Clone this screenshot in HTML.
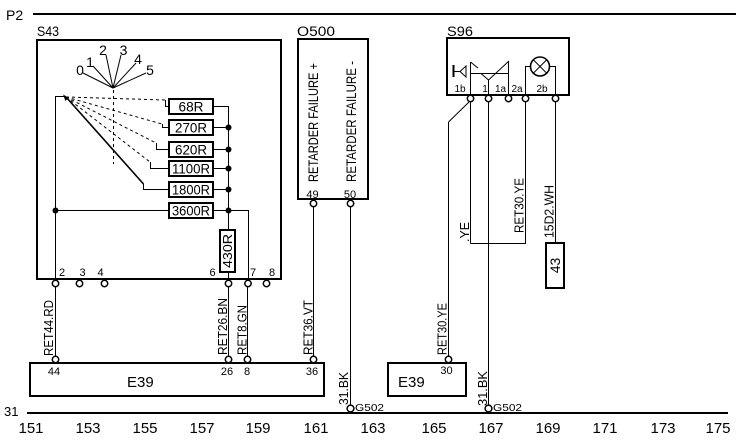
<!DOCTYPE html>
<html><head><meta charset="utf-8"><style>
html,body{margin:0;padding:0;background:#fff;}
svg{display:block;}
text{font-family:"Liberation Sans",Arial,sans-serif;fill:#000;}
</style></head><body>
<svg width="736" height="440" viewBox="0 0 736 440" xmlns="http://www.w3.org/2000/svg">
<g fill="none" stroke="#000">
<!-- rails -->
<line x1="33" y1="14" x2="736" y2="14" stroke-width="2"/>
<line x1="27" y1="413" x2="728" y2="413" stroke-width="2"/>

<!-- S43 box -->
<rect x="37" y="40" width="244" height="239" stroke-width="2"/>
<!-- rotary switch -->
<g stroke-width="1">
<line x1="113" y1="88" x2="83" y2="73"/>
<line x1="113" y1="88" x2="93" y2="66"/>
<line x1="113" y1="88" x2="106" y2="55"/>
<line x1="113" y1="88" x2="121" y2="55"/>
<line x1="113" y1="88" x2="136" y2="63"/>
<line x1="113" y1="88" x2="146" y2="73"/>
<line x1="113.5" y1="90" x2="113.5" y2="164" stroke-dasharray="3,3"/>
<line x1="66" y1="97" x2="165" y2="100" stroke-dasharray="3,3"/>
<line x1="66" y1="97" x2="162" y2="124" stroke-dasharray="3,3"/>
<line x1="66" y1="97" x2="156" y2="143" stroke-dasharray="3,3"/>
<line x1="66" y1="97" x2="150" y2="162" stroke-dasharray="3,3"/>
<polyline points="165.5,100 165.5,106.5 169,106.5"/>
<polyline points="162.5,124 162.5,127.5 169,127.5"/>
<polyline points="156.5,143 156.5,149.5 169,149.5"/>
<polyline points="150.5,162 150.5,168.5 169,168.5"/>
<polyline points="143.5,184 143.5,189.5 169,189.5"/>
<line x1="55.5" y1="210.5" x2="169" y2="210.5"/>
<polyline points="66,96.5 55.5,96.5 55.5,280"/>
<!-- right bus -->
<polyline points="213,106.5 228.5,106.5 228.5,229"/>
<line x1="213" y1="127.5" x2="228.5" y2="127.5"/>
<line x1="213" y1="149.5" x2="228.5" y2="149.5"/>
<line x1="213" y1="168.5" x2="228.5" y2="168.5"/>
<line x1="213" y1="189.5" x2="228.5" y2="189.5"/>
<polyline points="213,210.5 248.5,210.5 248.5,280"/>
<line x1="228.5" y1="272" x2="228.5" y2="280"/>
</g>
<line x1="66" y1="97" x2="143.5" y2="184" stroke-width="1.6"/>
<polygon points="64,95.5 68,98 65.5,100" fill="#000" stroke-width="1"/>
<g stroke-width="2">
<rect x="169" y="99" width="44" height="15"/>
<rect x="169" y="120" width="44" height="15"/>
<rect x="169" y="142" width="44" height="15"/>
<rect x="169" y="161" width="44" height="15"/>
<rect x="169" y="182" width="44" height="15"/>
<rect x="169" y="203" width="44" height="15"/>
<rect x="220" y="230" width="15" height="42"/>
</g>
<g fill="#000" stroke="none">
<circle cx="228.5" cy="127.5" r="3"/>
<circle cx="228.5" cy="149.5" r="3"/>
<circle cx="228.5" cy="168.5" r="3"/>
<circle cx="228.5" cy="189.5" r="3"/>
<circle cx="228.5" cy="210.5" r="3"/>
<circle cx="55.5" cy="210.5" r="3"/>
</g>

<!-- O500 box -->
<rect x="298" y="39" width="70" height="160" stroke-width="2"/>
<!-- S96 box -->
<rect x="447" y="38" width="122" height="57" stroke-width="2"/>
<g stroke-width="1">
<line x1="453.5" y1="65" x2="453.5" y2="77" stroke-width="2"/>
<line x1="453" y1="71.5" x2="460" y2="71.5"/>
<polygon points="460,71.5 466,66 466,77"/>
<line x1="470.5" y1="62" x2="470.5" y2="95"/>
<line x1="470.5" y1="62" x2="478" y2="68"/>
<line x1="470.5" y1="73.5" x2="509" y2="73.5"/>
<line x1="481" y1="73.5" x2="488.5" y2="80"/>
<line x1="488.5" y1="80" x2="509" y2="61"/>
<line x1="488.5" y1="80" x2="488.5" y2="95"/>
<line x1="508.5" y1="61" x2="508.5" y2="95"/>
<polyline points="525.5,95 525.5,66.5 531,66.5"/>
<polyline points="549,66.5 555.5,66.5 555.5,95"/>
<circle cx="540" cy="66.5" r="9.5" stroke-width="1.6"/>
<line x1="533.5" y1="60" x2="546.5" y2="73"/>
<line x1="546.5" y1="60" x2="533.5" y2="73"/>
</g>

<!-- wires -->
<g stroke-width="1">
<line x1="55.5" y1="287" x2="55.5" y2="356"/>
<line x1="228.5" y1="287" x2="228.5" y2="356"/>
<line x1="247.5" y1="287" x2="247.5" y2="356"/>
<line x1="313.5" y1="207" x2="313.5" y2="356"/>
<line x1="350.5" y1="207" x2="350.5" y2="405"/>
<line x1="470.5" y1="102" x2="470.5" y2="243.5"/>
<line x1="469" y1="102" x2="448.5" y2="122"/>
<line x1="448.5" y1="122" x2="448.5" y2="356"/>
<line x1="488.5" y1="102" x2="488.5" y2="405"/>
<polyline points="525.5,102 525.5,243.5 470.5,243.5"/>
<line x1="555.5" y1="102" x2="555.5" y2="243"/>
</g>
<rect x="546" y="243" width="18" height="45" stroke-width="2"/>

<!-- E39 boxes -->
<rect x="30" y="363" width="294" height="33" stroke-width="2"/>
<rect x="388" y="363" width="78" height="33" stroke-width="2"/>

<!-- pins -->
<g fill="#fff" stroke-width="1.5">
<circle cx="55.5" cy="283.5" r="3.2"/>
<circle cx="79.5" cy="283.5" r="3.2"/>
<circle cx="104.5" cy="283.5" r="3.2"/>
<circle cx="228.5" cy="283.5" r="3.2"/>
<circle cx="248" cy="283.5" r="3.2"/>
<circle cx="266.5" cy="283.5" r="3.2"/>
<circle cx="313.5" cy="203.5" r="3.2"/>
<circle cx="350.5" cy="203.5" r="3.2"/>
<circle cx="470.5" cy="98.5" r="3.2"/>
<circle cx="488.5" cy="98.5" r="3.2"/>
<circle cx="508.5" cy="98.5" r="3.2"/>
<circle cx="525.5" cy="98.5" r="3.2"/>
<circle cx="555.5" cy="98.5" r="3.2"/>
<circle cx="55.5" cy="359.5" r="3.2"/>
<circle cx="228.5" cy="359.5" r="3.2"/>
<circle cx="247.5" cy="359.5" r="3.2"/>
<circle cx="313.5" cy="359.5" r="3.2"/>
<circle cx="448.5" cy="359.5" r="3.2"/>
<circle cx="350.5" cy="408.5" r="3.4"/>
<circle cx="488.5" cy="408.5" r="3.4"/>
</g>
</g>

<!-- text -->
<text x="6" y="20" font-size="14">P2</text>
<text x="4" y="416" font-size="13">31</text>
<text x="37" y="36" font-size="13.5" textLength="22" lengthAdjust="spacingAndGlyphs">S43</text>
<text x="297" y="36" font-size="13.5" textLength="38" lengthAdjust="spacingAndGlyphs">O500</text>
<text x="447" y="36" font-size="13.5" textLength="26" lengthAdjust="spacingAndGlyphs">S96</text>

<g font-size="14" text-anchor="middle">
<text x="80" y="75">0</text>
<text x="90" y="67">1</text>
<text x="103" y="55">2</text>
<text x="123.5" y="55">3</text>
<text x="138" y="64">4</text>
<text x="150" y="75">5</text>
</g>

<g font-size="14" text-anchor="middle" lengthAdjust="spacingAndGlyphs">
<text x="191" y="111.5" textLength="25" lengthAdjust="spacingAndGlyphs">68R</text>
<text x="191" y="132.5" textLength="32" lengthAdjust="spacingAndGlyphs">270R</text>
<text x="191" y="154.5" textLength="32" lengthAdjust="spacingAndGlyphs">620R</text>
<text x="191" y="173.5" textLength="38" lengthAdjust="spacingAndGlyphs">1100R</text>
<text x="191" y="194.5" textLength="38" lengthAdjust="spacingAndGlyphs">1800R</text>
<text x="191" y="215.5" textLength="38" lengthAdjust="spacingAndGlyphs">3600R</text>
<text transform="translate(232,251) rotate(-90)" font-size="13" textLength="34" lengthAdjust="spacingAndGlyphs">430R</text>
<text transform="translate(560,265.5) rotate(-90)">43</text>
</g>

<g font-size="11" text-anchor="middle">
<text x="62" y="276">2</text>
<text x="82.5" y="276">3</text>
<text x="100.5" y="276">4</text>
<text x="212.5" y="276">6</text>
<text x="253" y="276">7</text>
<text x="272" y="276">8</text>
<text x="54" y="375">44</text>
<text x="227" y="375">26</text>
<text x="247" y="375">8</text>
<text x="312" y="375">36</text>
<text x="446.5" y="374">30</text>
<text x="312.5" y="198">49</text>
<text x="350" y="198">50</text>
</g>
<g font-size="10" text-anchor="middle">
<text x="460" y="92">1b</text>
<text x="485" y="92">1</text>
<text x="500.5" y="92">1a</text>
<text x="517" y="92">2a</text>
<text x="542" y="92">2b</text>
</g>

<g font-size="13">
<text transform="translate(318,182) rotate(-90)" font-size="14" textLength="119" lengthAdjust="spacingAndGlyphs">RETARDER FAILURE +</text>
<text transform="translate(356,182) rotate(-90)" font-size="14" textLength="121" lengthAdjust="spacingAndGlyphs">RETARDER FAILURE -</text>
<text transform="translate(53,356) rotate(-90)" textLength="56" lengthAdjust="spacingAndGlyphs">RET44.RD</text>
<text transform="translate(227,355) rotate(-90)" textLength="57" lengthAdjust="spacingAndGlyphs">RET26.BN</text>
<text transform="translate(246.5,355) rotate(-90)" textLength="50" lengthAdjust="spacingAndGlyphs">RET8.GN</text>
<text transform="translate(312.5,355) rotate(-90)" textLength="55" lengthAdjust="spacingAndGlyphs">RET36.VT</text>
<text transform="translate(469,242) rotate(-90)" textLength="20" lengthAdjust="spacingAndGlyphs">.YE</text>
<text transform="translate(523.5,233) rotate(-90)" textLength="55" lengthAdjust="spacingAndGlyphs">RET30.YE</text>
<text transform="translate(553.5,238) rotate(-90)" textLength="53" lengthAdjust="spacingAndGlyphs">15D2.WH</text>
<text transform="translate(446.5,355) rotate(-90)" textLength="52" lengthAdjust="spacingAndGlyphs">RET30.YE</text>
<text transform="translate(348,405) rotate(-90)" textLength="33" lengthAdjust="spacingAndGlyphs">31.BK</text>
<text transform="translate(487,406) rotate(-90)" textLength="35" lengthAdjust="spacingAndGlyphs">31.BK</text>
</g>
<g font-size="10.5">
<text x="355" y="411" textLength="29" lengthAdjust="spacingAndGlyphs">G502</text>
<text x="493" y="411" textLength="29" lengthAdjust="spacingAndGlyphs">G502</text>
</g>

<text x="127" y="387" font-size="15">E39</text>
<text x="398" y="387" font-size="15">E39</text>

<g font-size="15" text-anchor="middle">
<text x="31" y="433">151</text>
<text x="88" y="433">153</text>
<text x="145" y="433">155</text>
<text x="202" y="433">157</text>
<text x="258" y="433">159</text>
<text x="316" y="433">161</text>
<text x="373" y="433">163</text>
<text x="434" y="433">165</text>
<text x="491" y="433">167</text>
<text x="548" y="433">169</text>
<text x="605" y="433">171</text>
<text x="663" y="433">173</text>
<text x="718" y="433">175</text>
</g>
</svg>
</body></html>
